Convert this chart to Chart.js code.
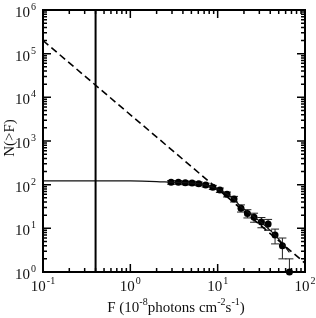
<!DOCTYPE html>
<html>
<head>
<meta charset="utf-8">
<script src="https://cdn.jsdelivr.net/npm/chart.js@4/dist/chart.umd.min.js"></script>
<style>
  html, body { margin: 0; padding: 0; background: #fff; }
  #wrap { width: 316px; height: 318px; }
</style>
</head>
<body>
<div id="wrap"><canvas id="logn-chart"></canvas></div>
<script>
// measured points N(>F) with poisson errors
var fluxBins = [2.93, 3.55, 4.26, 5.09, 6.07, 7.3, 8.8, 10.6, 12.8, 15.4, 18.5, 21.9, 26.1, 31.7, 37.8, 45.4, 55.1, 66.3];
var counts   = [113, 113, 110, 109, 105, 98, 87, 75, 60, 47, 29, 22, 18, 14, 12.5, 7, 4, 1];
var countErr = [10.6, 10.6, 10.5, 10.4, 10.2, 9.9, 9.3, 8.7, 7.7, 6.9, 5.4, 4.7, 4.2, 3.7, 3.5, 2.6, 2, 1];

// fitted model (solid curve)
var modelFlux   = [0.1, 1, 2, 2.93, 4.26, 6.07, 7.3, 8.8, 10.6, 12.8, 15.4, 18.5, 21.9, 26.1, 31.7, 37.8, 45.4, 55.1, 66.3];
var modelCounts = [122, 121.5, 118, 114, 111, 105, 98, 88, 75, 61, 47, 31, 24, 18.5, 13.5, 10, 7, 4.5, 2.8];

// power law (dashed)
var powerFlux   = [0.1, 100];
var powerCounts = [2.0e5, 1.6];

// flux limit marker
var limitFlux = 0.4;
var yRange = [1, 1e6];
var xRange = [0.1, 100];

var xTickExp = [-1, 0, 1, 2];
var yTickExp = [0, 1, 2, 3, 4, 5, 6];

function toXY(xs, ys){
    var out = [];
    for(var i = 0; i < xs.length; i++){
        out.push({x: xs[i], y: ys[i]});
    }
    return out;
}

var big = '15px "Liberation Serif", "Times New Roman", serif';
var small = '10px "Liberation Serif", "Times New Roman", serif';

// draw "10" with a raised exponent
function drawPow(ctx, exp, x, y, align){
    var base = '10', sup = String(exp);
    ctx.font = big;
    var wb = ctx.measureText(base).width;
    ctx.font = small;
    var ws = ctx.measureText(sup).width;
    var w = wb + ws + 1;
    var left = align === 'right' ? x - w : (align === 'center' ? x - w / 2 : x);
    ctx.textAlign = 'left';
    ctx.textBaseline = 'alphabetic';
    ctx.font = big;
    ctx.fillText(base, left, y);
    ctx.font = small;
    ctx.fillText(sup, left + wb + 1, y - 7);
}

var errorBars = {
    id: 'errorBars',
    beforeDatasetsDraw: function(chart){
        var ctx = chart.ctx, xs = chart.scales.x, ys = chart.scales.y, a = chart.chartArea;
        ctx.save();
        ctx.strokeStyle = '#222';
        ctx.lineWidth = 1;
        for(var i = 0; i < fluxBins.length; i++){
            var px = xs.getPixelForValue(fluxBins[i]);
            var hi = ys.getPixelForValue(counts[i] + countErr[i]);
            var loVal = counts[i] - countErr[i];
            var lo = loVal > 0 ? ys.getPixelForValue(loVal) : a.bottom;
            if(lo > a.bottom) lo = a.bottom;
            ctx.beginPath();
            ctx.moveTo(px, hi); ctx.lineTo(px, lo);
            ctx.moveTo(px - 4, hi); ctx.lineTo(px + 4, hi);
            if(loVal > 0){ ctx.moveTo(px - 4, lo); ctx.lineTo(px + 4, lo); }
            ctx.stroke();
        }
        ctx.restore();
    }
};

var frameAxes = {
    id: 'frameAxes',
    afterDraw: function(chart){
        var ctx = chart.ctx, xs = chart.scales.x, ys = chart.scales.y, a = chart.chartArea;
        ctx.save();
        ctx.strokeStyle = '#000';
        ctx.fillStyle = '#000';
        ctx.lineWidth = 1.5;
        // ticks pointing inward on all four sides
        ctx.beginPath();
        for(var k = -1; k < 2; k++){
            for(var m = 1; m <= 9; m++){
                var px = xs.getPixelForValue(m * Math.pow(10, k));
                var len = m === 1 ? 8 : 4;
                ctx.moveTo(px, a.bottom); ctx.lineTo(px, a.bottom - len);
                ctx.moveTo(px, a.top); ctx.lineTo(px, a.top + len);
            }
        }
        for(var k2 = 0; k2 < 6; k2++){
            for(var m2 = 1; m2 <= 9; m2++){
                var py = ys.getPixelForValue(m2 * Math.pow(10, k2));
                var len2 = m2 === 1 ? 8 : 4;
                ctx.moveTo(a.left, py); ctx.lineTo(a.left + len2, py);
                ctx.moveTo(a.right, py); ctx.lineTo(a.right - len2, py);
            }
        }
        ctx.stroke();
        ctx.lineWidth = 2;
        ctx.strokeRect(a.left, a.top, a.right - a.left, a.bottom - a.top);

        // tick labels
        ctx.fillStyle = '#111';
        for(var i = 0; i < yTickExp.length; i++){
            var y = ys.getPixelForValue(Math.pow(10, yTickExp[i]));
            drawPow(ctx, yTickExp[i], a.left - 7, y + 7, 'right');
        }
        for(var j = 0; j < xTickExp.length; j++){
            var x = xs.getPixelForValue(Math.pow(10, xTickExp[j]));
            drawPow(ctx, xTickExp[j], x, a.bottom + 19, 'center');
        }

        // x title: F (10^-8 photons cm^-2 s^-1)
        var parts = [['F (10', 0], ['-8', 1], ['photons cm', 0], ['-2', 1], ['s', 0], ['-1', 1], [')', 0]];
        var total = 0, widths = [];
        for(var p = 0; p < parts.length; p++){
            ctx.font = parts[p][1] ? small : big;
            var w = ctx.measureText(parts[p][0]).width;
            widths.push(w); total += w;
        }
        var cx = (a.left + a.right) / 2 + 2 - total / 2;
        ctx.textAlign = 'left';
        ctx.textBaseline = 'alphabetic';
        for(var q = 0; q < parts.length; q++){
            ctx.font = parts[q][1] ? small : big;
            ctx.fillText(parts[q][0], cx, parts[q][1] ? 305 : 312);
            cx += widths[q];
        }

        // y title
        ctx.save();
        ctx.translate(10, (a.top + a.bottom) / 2 - 3);
        ctx.rotate(-Math.PI / 2);
        ctx.font = big;
        ctx.textAlign = 'center';
        ctx.textBaseline = 'middle';
        ctx.fillText('N(>F)', 0, 0);
        ctx.restore();

        ctx.restore();
    }
};

var ctx = document.getElementById('logn-chart').getContext('2d');
var chart = new Chart(ctx, {
    type: 'scatter',
    data: {
        datasets: [
            {
                label: 'limit',
                data: [{x: limitFlux, y: yRange[0]}, {x: limitFlux, y: yRange[1]}],
                showLine: true,
                borderColor: '#000',
                borderWidth: 2,
                pointRadius: 0
            },
            {
                label: 'power law',
                data: toXY(powerFlux, powerCounts),
                showLine: true,
                borderColor: '#000',
                borderWidth: 1.6,
                borderDash: [7, 4],
                pointRadius: 0
            },
            {
                label: 'model',
                data: toXY(modelFlux, modelCounts),
                showLine: true,
                borderColor: '#111',
                borderWidth: 1.2,
                cubicInterpolationMode: 'monotone',
                pointRadius: 0
            },
            {
                label: 'data',
                data: toXY(fluxBins, counts),
                showLine: false,
                pointRadius: 3.5,
                pointBackgroundColor: '#000',
                pointBorderColor: '#000',
                pointBorderWidth: 0,
                clip: false
            }
        ]
    },
    options: {
        responsive: true,
        maintainAspectRatio: false,
        animation: false,
        layout: { padding: { left: 43, right: 11, top: 10, bottom: 46 } },
        plugins: { legend: { display: false }, tooltip: { enabled: false } },
        scales: {
            x: { type: 'logarithmic', min: xRange[0], max: xRange[1], display: false },
            y: { type: 'logarithmic', min: yRange[0], max: yRange[1], display: false }
        }
    },
    plugins: [errorBars, frameAxes]
});
</script>
</body>
</html>
